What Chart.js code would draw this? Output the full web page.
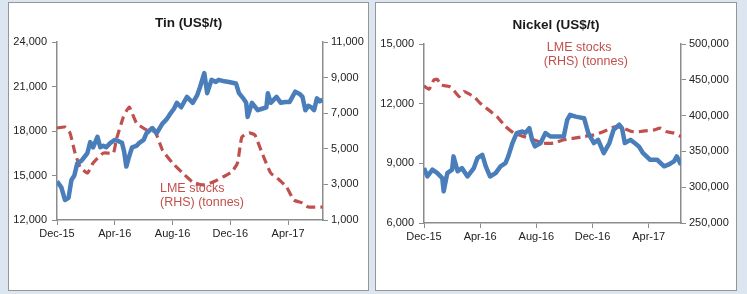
<!DOCTYPE html>
<html>
<head>
<meta charset="utf-8">
<script src="https://cdn.jsdelivr.net/npm/chart.js@4.4.0/dist/chart.umd.min.js"></script>
<style>
  body { margin: 0; background: #dce6f0; width: 747px; height: 294px; overflow: hidden; }
  .panel { position: absolute; background: #fff; border: 1px solid #969696; }
  #tinPanel { left: 8px; top: 2px; width: 359px; height: 287px; }
  #nickelPanel { left: 375px; top: 2px; width: 360px; height: 287px; }
  canvas { display: block; }
</style>
</head>
<body>
<div class="panel" id="tinPanel"><canvas id="tinChart" width="359" height="287"></canvas></div>
<div class="panel" id="nickelPanel"><canvas id="nickelChart" width="360" height="287"></canvas></div>
<script>
// x values are months since 1 Dec 2015
const monthTicks = [0, 4, 8, 12, 16];
const monthLabels = ['Dec-15', 'Apr-16', 'Aug-16', 'Dec-16', 'Apr-17'];

// Tin price (US$/t)
const tinPriceX = [0, 0.3, 0.55, 0.8, 1.0, 1.2, 1.4, 1.7, 2.1, 2.3, 2.5, 2.8, 3.0, 3.2, 3.4, 3.7, 4.0, 4.3, 4.5, 4.65, 4.8, 5.0, 5.2, 5.5, 5.7, 6.0, 6.2, 6.6, 6.9, 7.3, 7.6, 7.8, 8.1, 8.3, 8.6, 9.0, 9.4, 9.7, 9.9, 10.2, 10.4, 10.7, 11.0, 11.2, 11.6, 11.9, 12.4, 12.6, 12.9, 13.1, 13.2, 13.5, 13.9, 14.2, 14.5, 14.6, 14.8, 15.2, 15.5, 15.8, 16.1, 16.5, 16.8, 17.0, 17.2, 17.4, 17.6, 17.8, 18.0, 18.2, 18.4];
const tinPrice = [14600, 14200, 13350, 13500, 14700, 15000, 15800, 16000, 16500, 17250, 16900, 17600, 16900, 17000, 16900, 17200, 17400, 17300, 17200, 16600, 15600, 16300, 16900, 17000, 17200, 17400, 17850, 18200, 17850, 18500, 18800, 19100, 19500, 19900, 19600, 20300, 19900, 20400, 20950, 21900, 20550, 21450, 21300, 21450, 21350, 21300, 21200, 20550, 20200, 19900, 18950, 19900, 19400, 19500, 19600, 20550, 19900, 20300, 19900, 19950, 19950, 20650, 20500, 20300, 19400, 19700, 19600, 19400, 20200, 20000, 20100];

// Tin LME stocks (tonnes, RHS)
const tinStockX = [0, 0.55, 0.9, 1.25, 1.6, 2.1, 2.5, 3.2, 3.9, 4.1, 4.6, 5.0, 5.5, 6.2, 6.8, 7.3, 8.0, 8.7, 9.4, 10.1, 10.8, 11.5, 12.1, 12.5, 12.8, 13.3, 13.7, 14.2, 14.8, 15.4, 15.9, 16.4, 17.0, 17.4, 18.4];
const tinStock = [6170, 6220, 5890, 4760, 3980, 3640, 4200, 4760, 4760, 5490, 6790, 7350, 6450, 6060, 5940, 4930, 4200, 3640, 3130, 2970, 3130, 3420, 3700, 4200, 5660, 5890, 5780, 4760, 3640, 3250, 2850, 2120, 1960, 1730, 1730];

// Nickel price (US$/t)
const nickelPriceX = [0, 0.24, 0.6, 0.95, 1.3, 1.4, 1.66, 2.0, 2.1, 2.4, 2.7, 3.1, 3.55, 3.8, 4.15, 4.4, 4.7, 5.1, 5.45, 5.8, 6.0, 6.3, 6.6, 7.0, 7.2, 7.5, 7.7, 7.9, 8.3, 8.65, 9.0, 9.5, 9.95, 10.2, 10.4, 10.8, 11.4, 11.7, 12.1, 12.4, 12.8, 13.2, 13.5, 13.9, 14.1, 14.3, 14.7, 15.0, 15.3, 15.6, 16.1, 16.6, 17.1, 17.4, 17.8, 18.0, 18.3];
const nickelPrice = [8760, 8340, 8680, 8510, 8260, 7590, 8510, 8680, 9350, 8600, 8760, 8340, 8760, 9260, 9430, 8850, 8340, 8510, 8850, 9010, 9350, 10020, 10520, 10600, 10520, 10770, 10180, 9850, 10020, 10520, 10350, 10350, 10350, 11190, 11440, 11350, 11270, 10520, 10020, 10180, 9510, 10020, 10690, 10940, 10770, 10020, 10180, 10020, 9850, 9510, 9180, 9180, 8850, 8930, 9100, 9350, 8930];

// Nickel LME stocks (tonnes, RHS)
const nickelStockX = [0, 0.36, 0.7, 0.95, 1.2, 1.8, 2.1, 2.5, 2.85, 3.2, 3.55, 4.0, 4.6, 5.2, 5.8, 6.4, 7.1, 7.8, 8.5, 9.2, 9.95, 10.7, 11.4, 12.1, 12.8, 13.3, 13.7, 14.2, 14.8, 15.4, 16.4, 16.8, 17.2, 17.8, 18.3];
const nickelStock = [441500, 436800, 449800, 450700, 442800, 440500, 435900, 426600, 433600, 430300, 426600, 417300, 408000, 398700, 384800, 375500, 370800, 366200, 361500, 361500, 366200, 368500, 370800, 373100, 377800, 382400, 384800, 382400, 377800, 377800, 380100, 382400, 377800, 375500, 370800];

const blue = '#4a7ebb';
const red = '#c0504d';
const axisGrey = '#8c8c8c';
const fontFamily = '"Liberation Sans", Arial, sans-serif';

function toPoints(xs, ys) {
  return xs.map((x, i) => ({ x: x, y: ys[i] }));
}

// draws the "LME stocks (RHS) (tonnes)" note at a data position on the right axis
const notePlugin = {
  id: 'note',
  afterDatasetsDraw(chart, args, opts) {
    const ctx = chart.ctx;
    const x = chart.scales.x.getPixelForValue(opts.x);
    const y = chart.scales.y1.getPixelForValue(opts.y);
    ctx.save();
    ctx.fillStyle = red;
    ctx.font = '12.5px ' + fontFamily;
    ctx.textAlign = 'left';
    ctx.textBaseline = 'middle';
    ctx.fillText('LME stocks', x + (opts.dx || 0), y);
    ctx.fillText('(RHS) (tonnes)', x, y + 14);
    ctx.restore();
  }
};

function makeChart(canvasId, cfg) {
  const ctx = document.getElementById(canvasId).getContext('2d');
  return new Chart(ctx, {
    type: 'line',
    data: {
      datasets: [{
        data: toPoints(cfg.priceX, cfg.price),
        yAxisID: 'y',
        borderColor: blue,
        borderWidth: 4.5,
        borderJoinStyle: 'round',
        pointRadius: 0,
        tension: 0
      }, {
        data: toPoints(cfg.stockX, cfg.stock),
        yAxisID: 'y1',
        borderColor: red,
        borderWidth: 3.2,
        borderDash: [9, 5],
        pointRadius: 0,
        tension: 0.15
      }]
    },
    plugins: [notePlugin],
    options: {
      responsive: false,
      animation: false,
      layout: { padding: 0 },
      plugins: {
        legend: { display: false },
        tooltip: { enabled: false },
        title: {
          display: true,
          text: cfg.title,
          color: '#1a1a1a',
          font: { size: 13.5, weight: 'bold', family: fontFamily },
          padding: { top: cfg.titleTop, bottom: cfg.titleBottom }
        },
        note: cfg.note
      },
      scales: {
        x: {
          type: 'linear',
          min: 0,
          max: cfg.xMax,
          afterBuildTicks: axis => { axis.ticks = monthTicks.map(v => ({ value: v })); },
          afterFit: axis => { axis.height = cfg.xHeight; },
          ticks: {
            color: '#222',
            font: { size: 11, family: fontFamily },
            padding: 2,
            maxRotation: 0,
            callback: v => monthLabels[monthTicks.indexOf(v)]
          },
          grid: { drawOnChartArea: false, drawTicks: true, tickLength: 5, color: axisGrey },
          border: { display: true, color: axisGrey, width: 1.5 }
        },
        y: {
          position: 'left',
          min: cfg.yMin,
          max: cfg.yMax,
          afterFit: axis => { axis.width = cfg.leftWidth; },
          ticks: {
            stepSize: cfg.yStep,
            color: '#222',
            font: { size: 11, family: fontFamily },
            padding: 5,
            callback: v => v.toLocaleString('en-US')
          },
          grid: { drawOnChartArea: false, drawTicks: true, tickLength: 5, color: axisGrey },
          border: { display: true, color: axisGrey, width: 1.5 }
        },
        y1: {
          position: 'right',
          min: cfg.y1Min,
          max: cfg.y1Max,
          afterFit: axis => { axis.width = cfg.rightWidth; },
          ticks: {
            stepSize: cfg.y1Step,
            color: '#222',
            font: { size: 11, family: fontFamily },
            padding: 3,
            callback: v => v.toLocaleString('en-US')
          },
          grid: { drawOnChartArea: false, drawTicks: true, tickLength: 5, color: axisGrey },
          border: { display: true, color: axisGrey, width: 1.5 }
        }
      }
    }
  });
}

makeChart('tinChart', {
  title: 'Tin (US$/t)',
  titleTop: 12, titleBottom: 10.8,
  priceX: tinPriceX, price: tinPrice,
  stockX: tinStockX, stock: tinStock,
  xMax: 18.42, xHeight: 70,
  yMin: 12000, yMax: 24000, yStep: 3000,
  y1Min: 1000, y1Max: 11000, y1Step: 2000,
  leftWidth: 48, rightWidth: 45,
  note: { x: 7.13, y: 2740 }
});

makeChart('nickelChart', {
  title: 'Nickel (US$/t)',
  titleTop: 14, titleBottom: 10.8,
  priceX: nickelPriceX, price: nickelPrice,
  stockX: nickelStockX, stock: nickelStock,
  xMax: 18.3, xHeight: 67,
  yMin: 6000, yMax: 15000, yStep: 3000,
  y1Min: 250000, y1Max: 500000, y1Step: 50000,
  leftWidth: 48, rightWidth: 55,
  note: { x: 8.53, y: 494400, dx: 3 }
});
</script>
</body>
</html>
